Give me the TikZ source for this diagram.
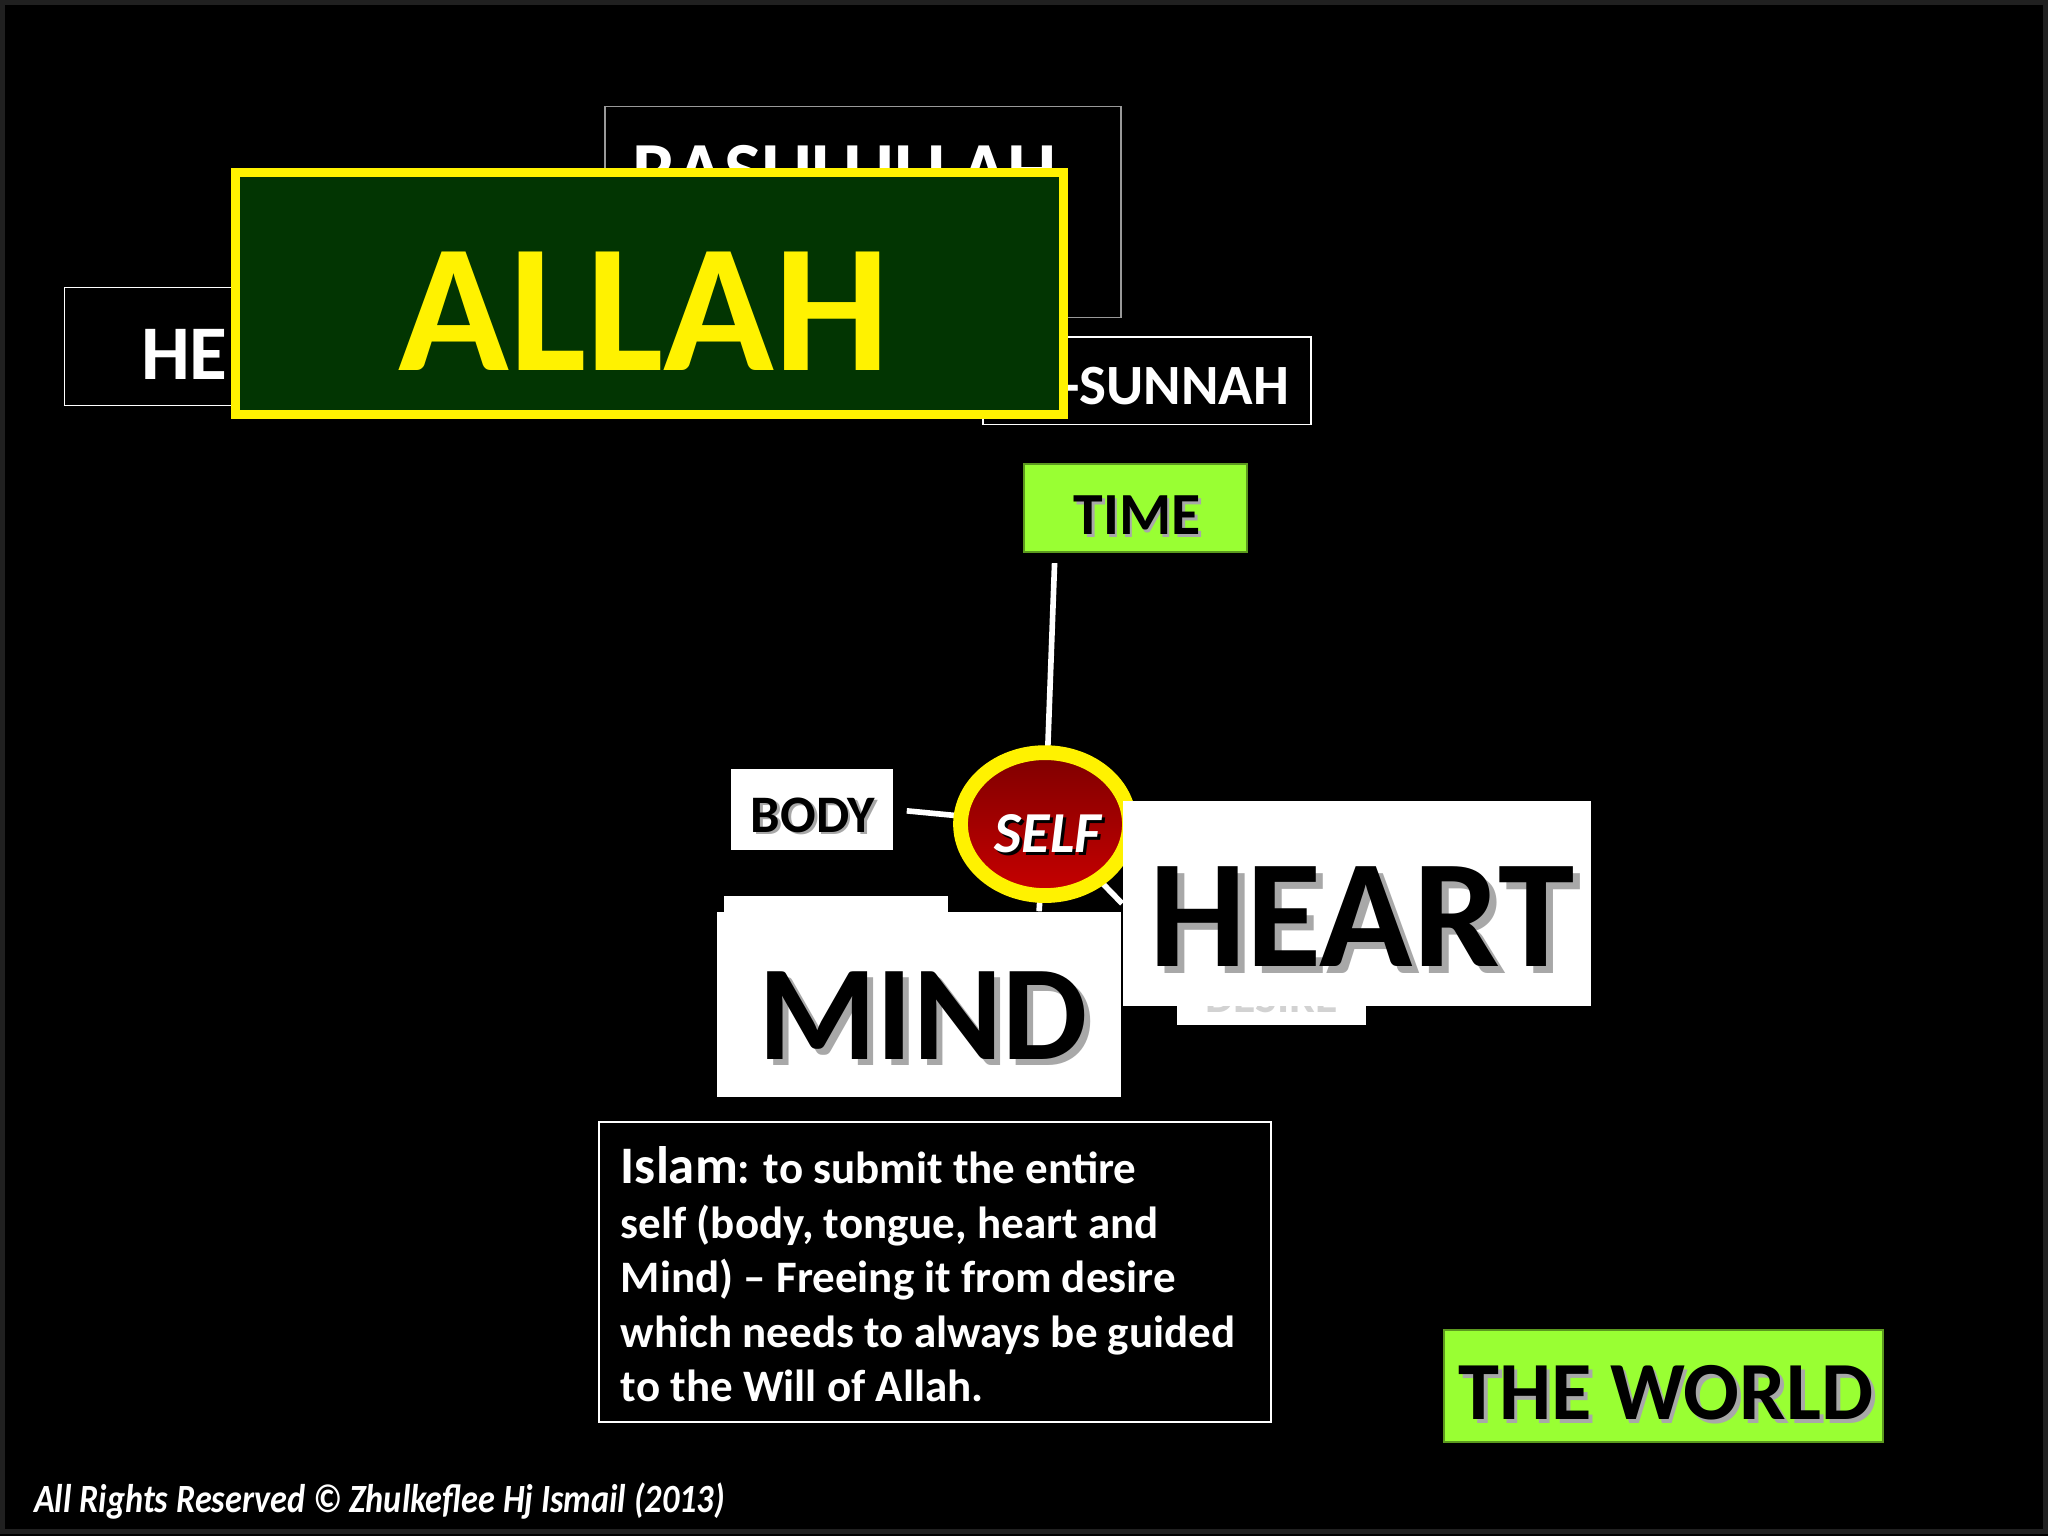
\documentclass[tikz,border=0pt]{standalone}
\usepackage{fontspec}
\setmainfont{Carlito}
\usetikzlibrary{shapes.geometric,calc}
\definecolor{lime}{HTML}{99FF33}
\definecolor{dgreen}{HTML}{023502}
\definecolor{shgray}{HTML}{A8A8A8}
\definecolor{selftop}{HTML}{7E0000}
\definecolor{selfbot}{HTML}{C80000}
\pgfdeclarelayer{back}
\pgfdeclarelayer{lines}
\pgfsetlayers{back,lines,main}
% text with a drop shadow: #1 offset, #2 shadow colour, #3 text
\newcommand\shtxt[3]{\makebox[0pt][l]{\hspace{#1}\raisebox{-#1}{\textcolor{#2}{#3}}}#3}
\begin{document}
\begin{tikzpicture}[x=0.01cm,y=-0.01cm,
  outbox/.style={draw=white, line width=0.45pt, fill=black, inner sep=0},
  solidw/.style={fill=white, inner sep=0},
  limebox/.style={fill=lime, draw=lime!60!black, line width=0.5pt, inner sep=0},
  conn/.style={draw=white, line width=1.6pt},
  txt/.style={inner sep=0}
]
\begin{pgfonlayer}{back}
\fill[black] (0,0) rectangle (2048,1536);
\draw[gray!25!black, line width=1.4pt] (2,2) rectangle (2046,1532);
\end{pgfonlayer}
\useasboundingbox (0,0) rectangle (2048,1536);

% background boxes
\node[outbox, minimum width=3.56cm, minimum height=1.18cm] (hebox) at (242,346) {};
\node[txt, anchor=base west, text=white, font={\bfseries\fontsize{22pt}{26pt}\selectfont}] (hetxt) at (140,379) {HE};
\node[outbox, draw=gray!80, minimum width=5.16cm, minimum height=2.11cm] (rasbox) at (863,211.5) {};
\node[txt, anchor=base west, text=white, font={\bfseries\fontsize{22.2pt}{26pt}\selectfont}] (rastxt) at (632,196) {RASULULLAH};
\node[outbox, minimum width=3.28cm, minimum height=0.87cm] (sunbox) at (1147,380.5) {};
\node[txt, anchor=base east, text=white, font={\bfseries\fontsize{16.2pt}{19pt}\selectfont}] (suntxt) at (1290,404) {AL-SUNNAH};

% ALLAH
\node[fill=dgreen, draw=yellow, line width=2.6pt, minimum width=8.28cm, minimum height=2.42cm, inner sep=0] (allah) at (649.5,293.5) {};
\node[txt, anchor=base, text=yellow, font={\bfseries\fontsize{52pt}{60pt}\selectfont}] (allahtxt) at (644,370) {ALLAH};

% TIME
\node[limebox, minimum width=2.23cm, minimum height=0.88cm] (time) at (1135.5,508) {};
\node[txt, anchor=base, text=black, font={\bfseries\fontsize{17pt}{20pt}\selectfont}] (timetxt) at (1137,534) {\shtxt{0.8pt}{shgray}{TIME}};

% BODY
\node[solidw, minimum width=1.62cm, minimum height=0.81cm] (body) at (812,809.5) {};
\node[txt, anchor=base, text=black, font={\bfseries\fontsize{15pt}{18pt}\selectfont}] (bodytxt) at (813,832) {\shtxt{0.8pt}{shgray}{BODY}};

% SELF
\node[ellipse, minimum width=1.69cm, minimum height=1.43cm, inner sep=0] (self) at (1045,824) {};
\shade[top color=selftop, bottom color=selfbot] (self.center) ellipse [x radius=84.5, y radius=71.5];
\draw[yellow, line width=4.2pt] (self.center) ellipse [x radius=84.5, y radius=71.5];
\node[txt, anchor=base, text=white, font={\bfseries\itshape\fontsize{16.5pt}{19pt}\selectfont}] (selftxt) at (1048,852) {\shtxt{0.9pt}{black}{SELF}};

% MIND
\node[solidw, minimum width=2.24cm, minimum height=0.34cm] (mindback) at (836,913) {};
\node[solidw, minimum width=4.04cm, minimum height=1.85cm] (mind) at (919,1004.5) {};
\node[txt, anchor=base, text=black, font={\bfseries\fontsize{38.5pt}{44pt}\selectfont}] (mindtxt) at (923,1060) {\shtxt{1.7pt}{shgray}{MIND}};

% HEART
\node[solidw, minimum width=1.89cm, minimum height=0.65cm] (desireback) at (1271.5,992.5) {};
\node[txt, anchor=base, text=gray!35, font={\bfseries\fontsize{13pt}{15pt}\selectfont}] (desiretxt) at (1271.5,1012) {DESIRE};
\node[solidw, minimum width=4.68cm, minimum height=2.05cm] (heart) at (1357,903.5) {};
\node[txt, anchor=base, text=black, font={\bfseries\fontsize{43.8pt}{50pt}\selectfont}] (hearttxt) at (1362,966) {\shtxt{2pt}{shgray}{HEART}};

% connectors (under the nodes)
\begin{pgfonlayer}{lines}
\draw[conn, shorten <=0.1cm] ([xshift=-0.805cm]time.south) -- (self);
\draw[conn, shorten <=0.13cm] (body.east) -- (self);
\draw[conn] (self) -- ([xshift=1.2cm]mind.north);
\draw[conn] (self) -- (heart.west);
\end{pgfonlayer}

% text box
\node[outbox, minimum width=6.72cm, minimum height=3.00cm] (islambox) at (935,1272) {};
\node[txt, anchor=north west, text=white, align=left, font={\bfseries\fontsize{12.8pt}{15.5pt}\selectfont}] (islam) at (620,1146)
 {{\fontsize{15pt}{15.5pt}\selectfont Islam}: to submit the entire\\
  self (body, tongue, heart and\\
  Mind) – Freeing it from desire\\
  which needs to always be guided\\
  to the Will of Allah.};

% THE WORLD
\node[limebox, minimum width=4.39cm, minimum height=1.12cm] (world) at (1663.5,1386) {};
\node[txt, anchor=base, text=black, font={\bfseries\fontsize{23.5pt}{27pt}\selectfont}] (worldtxt) at (1666,1420) {\shtxt{1.1pt}{shgray}{THE WORLD}};

% copyright
\node[txt, anchor=base west, text=white, font={\bfseries\itshape\fontsize{11.4pt}{13pt}\selectfont}] (copy) at (33,1513) {\scalebox{0.855}[1]{All Rights Reserved © Zhulkeflee Hj Ismail (2013)}};
\end{tikzpicture}
\end{document}
